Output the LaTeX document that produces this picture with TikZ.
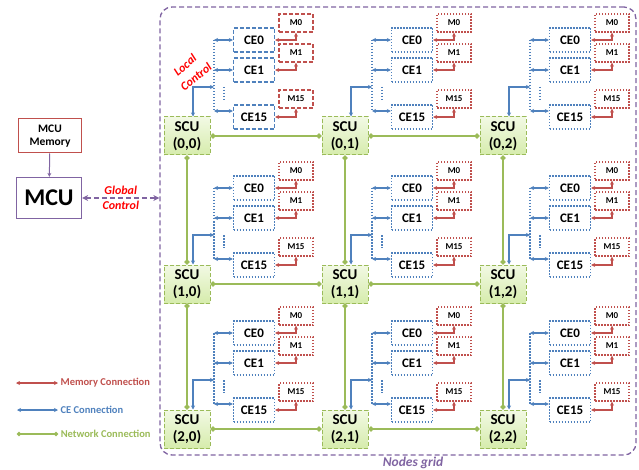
\documentclass[tikz,border=0pt]{standalone}
\usepackage{fontspec}
\setmainfont{Carlito}
\usetikzlibrary{arrows.meta, positioning, calc}
\usepackage{xcolor}
\definecolor{memred}{RGB}{192,80,77}
\definecolor{ceblue}{RGB}{79,129,189}
\definecolor{netgreen}{RGB}{155,187,89}
\definecolor{ctlpurple}{RGB}{128,100,162}
\definecolor{scutop}{RGB}{242,249,228}
\definecolor{scubot}{RGB}{214,236,172}

\begin{document}
\begin{tikzpicture}[x=1pt, y=1pt,
    scu/.style={draw=netgreen, line width=1pt, dash pattern=on 4pt off 2pt, top color=scutop, bottom color=scubot,
        minimum width=46pt, minimum height=38pt, inner sep=0pt, align=center, font=\fontsize{15}{17}\selectfont\bfseries},
    ce/.style={draw=ceblue, line width=1.3pt, minimum width=41pt, minimum height=24pt, inner sep=0pt,
        font=\fontsize{13}{15}\selectfont\bfseries},
    mem/.style={draw=memred, line width=1.3pt, minimum width=34pt, minimum height=18pt, inner sep=0pt,
        font=\fontsize{9}{11}\selectfont\bfseries},
    dashline/.style={dash pattern=on 4pt off 2pt},
    dotline/.style={dash pattern=on 1.5pt off 1.5pt},
    memarrow/.style={draw=memred, line width=1.2pt, {Stealth[length=4pt,width=4pt]}-{Stealth[length=4pt,width=4pt]}},
    cearrow/.style={draw=ceblue, line width=1.2pt, {Stealth[length=4pt,width=4pt]}-{Stealth[length=4pt,width=4pt]}},
    netline/.style={draw=netgreen, line width=2pt, {Circle[length=5pt]}-{Circle[length=5pt]}},
    legtext/.style={right, inner sep=2pt, font=\fontsize{10.5}{12}\selectfont\bfseries},
    ctltext/.style={text=red, align=center, inner sep=1pt, font=\fontsize{12}{14}\selectfont\bfseries\itshape},
]
\useasboundingbox (0,0) rectangle (639,469);

% nodes grid frame
\node[draw=ctlpurple, line width=1.3pt, dash pattern=on 5pt off 3pt, rounded corners=12pt,
      minimum width=476pt, minimum height=448pt] (grid) at (398,238) {};
\node[text=ctlpurple, font=\fontsize{13.5}{15}\selectfont\bfseries\itshape] (gridlbl) at (413,6) {Nodes grid};

% MCU side
\node[draw=memred, line width=1pt, minimum width=63pt, minimum height=34pt, align=center,
      font=\fontsize{11.5}{13}\selectfont\bfseries] (mcumem) at (50,333) {MCU\\Memory};
\node[draw=ctlpurple, line width=1.3pt, minimum width=65pt, minimum height=41pt,
      font=\fontsize{24}{28}\selectfont\bfseries] (mcu) at (49,271) {MCU};
\draw[ctlpurple, line width=1pt, -{Stealth[length=4pt,width=4pt]}] (mcumem) -- (mcu);
\draw[ctlpurple, line width=2pt, dash pattern=on 5pt off 3pt,
      {Stealth[length=6pt,width=6pt]}-{Stealth[length=6pt,width=6pt]}]
    (mcu.east) -- (mcu.east -| grid.west) node[midway, ctltext] (gctl) {Global\\[1pt]Control};

% one SCU with its CEs and memories per grid position
\foreach \r/\c/\X/\Y/\ls in {0/0/187/333/dashline, 0/1/345/333/dotline, 0/2/503/333/dotline,
                             1/0/187/185/dotline, 1/1/345/185/dotline, 1/2/503/185/dotline,
                             2/0/187/40/dotline,  2/1/345/40/dotline,  2/2/503/40/dotline} {
  \node[scu] (scu\r\c) at (\X,\Y) {SCU\\(\r,\c)};
  \node[ce, \ls] (ce0\r\c) at (\X+67,\Y+96) {CE0};
  \node[ce, \ls] (ce1\r\c) at (\X+67,\Y+66) {CE1};
  \node[ce, \ls] (ce15\r\c) at (\X+67,\Y+19) {CE15};
  \node[mem, \ls] (m0\r\c) at (\X+109,\Y+113) {M0};
  \node[mem, \ls] (m1\r\c) at (\X+109,\Y+83) {M1};
  \node[mem, \ls] (m15\r\c) at (\X+109,\Y+37) {M15};
  \coordinate (bus\r\c) at (\X+27,\Y+49);
  \coordinate (in15\r\c) at ([yshift=6pt]ce15\r\c.west);
  % CE bus
  \draw[ceblue, line width=1.2pt, dotline] (bus\r\c |- ce0\r\c.west) -- (bus\r\c |- in15\r\c);
  \draw[ceblue, line width=1.2pt, dotline] ([shift={(10pt,0pt)}]bus\r\c) -- ([shift={(10pt,-13pt)}]bus\r\c);
  \draw[cearrow] ([xshift=6pt]scu\r\c.north) |- (bus\r\c);
  \draw[cearrow] (bus\r\c |- ce0\r\c.west) -- (ce0\r\c.west);
  \draw[cearrow] (bus\r\c |- ce1\r\c.west) -- (ce1\r\c.west);
  \draw[cearrow] (bus\r\c |- in15\r\c) -- (in15\r\c);
  % memories
  \draw[memarrow] (m0\r\c.south) |- (ce0\r\c.east);
  \draw[memarrow] (m1\r\c.south) |- (ce1\r\c.east);
  \draw[memarrow] (m15\r\c.south) |- (ce15\r\c.east);
}

% network links
\foreach \r in {0,1,2} {
  \draw[netline] (scu\r0.east) -- (scu\r1.west);
  \draw[netline] (scu\r1.east) -- (scu\r2.west);
}
\foreach \c in {0,1,2} {
  \draw[netline] (scu0\c.south) -- (scu1\c.north);
  \draw[netline] (scu1\c.south) -- (scu2\c.north);
}

% local control label
\node[ctltext, rotate=40] (lctl1) at (185,404) {Local};
\node[ctltext, rotate=40] (lctl2) at (196,392) {Control};

% legend
\coordinate (lgm1) at (16,86);  \coordinate (lgm2) at (58,86);
\coordinate (lgc1) at (17,59);  \coordinate (lgc2) at (58,59);
\coordinate (lgn1) at (17,35);  \coordinate (lgn2) at (58,35);
\draw[memarrow] (lgm1) -- (lgm2) node[legtext, text=memred] (lgmt) {Memory Connection};
\draw[cearrow] (lgc1) -- (lgc2) node[legtext, text=ceblue] (lgct) {CE Connection};
\draw[netline, line width=1.5pt, {Circle[length=4pt]}-{Circle[length=4pt]}] (lgn1) -- (lgn2)
    node[legtext, text=netgreen] (lgnt) {Network Connection};

\end{tikzpicture}
\end{document}
